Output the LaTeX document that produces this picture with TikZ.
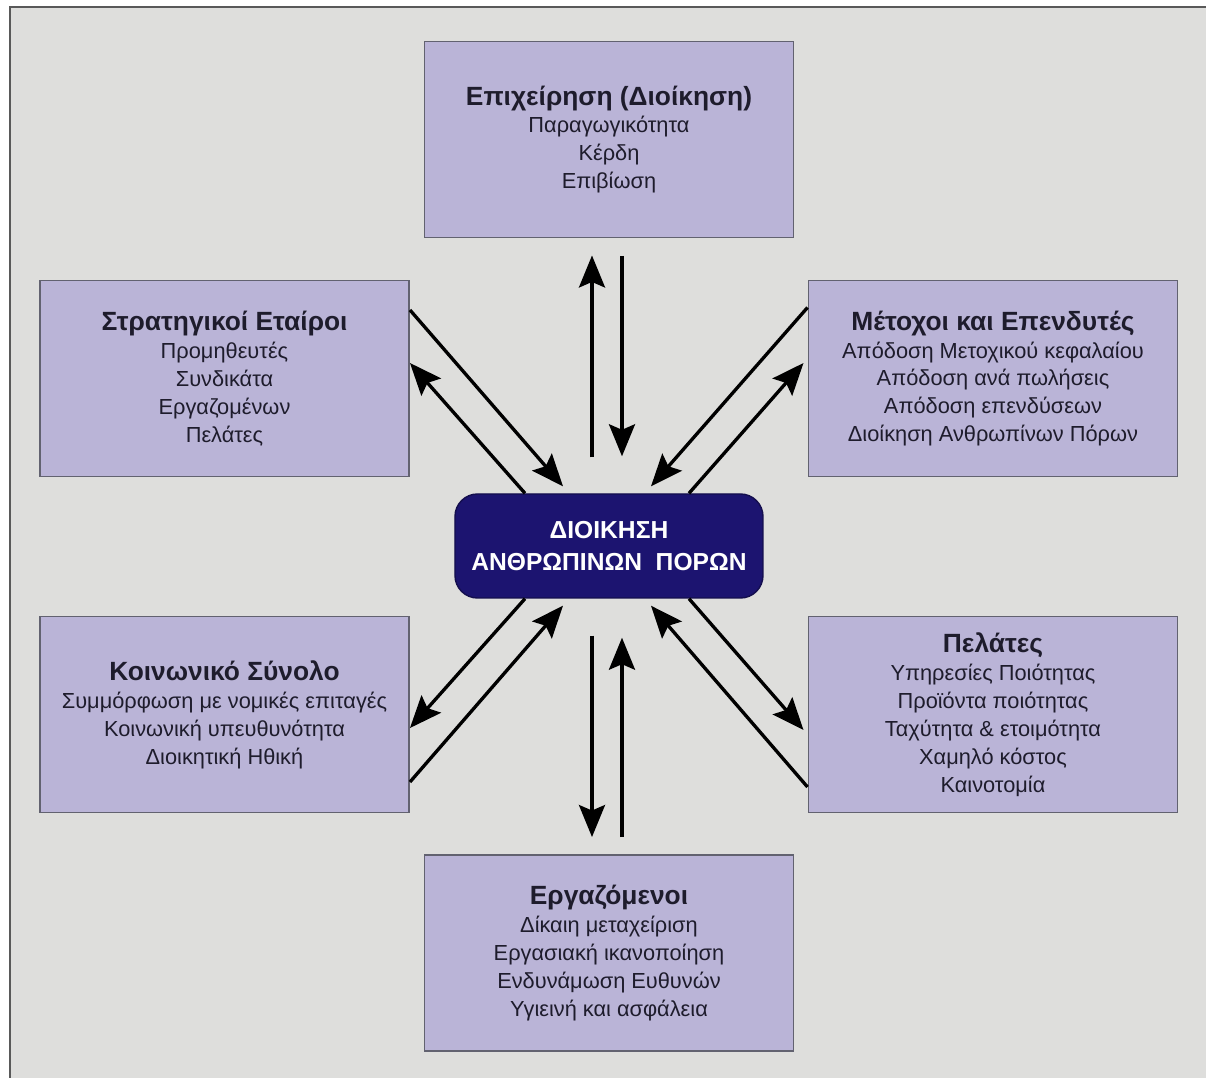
\documentclass[tikz,border=0pt]{standalone}
\usepackage{fontspec}
\setsansfont{Liberation Sans}
\usetikzlibrary{arrows.meta,positioning}
\usepackage{xcolor}

\definecolor{bggray}{RGB}{222,222,220}
\definecolor{boxlilac}{RGB}{186,180,215}
\definecolor{boxedge}{RGB}{98,98,112}
\definecolor{hrmblue}{RGB}{28,20,112}
\definecolor{txtdark}{RGB}{30,28,44}
\newcommand{\grptitle}[1]{{\fontsize{15}{15.9}\selectfont\bfseries #1}}

\begin{document}
\begin{tikzpicture}[
    font=\sffamily,
    grp/.style={
      rectangle, draw=boxedge, line width=1.1pt, fill=boxlilac,
      align=center, text=txtdark,
      minimum width=7.38cm, minimum height=3.92cm,
      inner sep=2pt,
      font=\sffamily\fontsize{12.4}{15.9}\selectfont
    },
    core/.style={
      rectangle, rounded corners=0.45cm, draw=hrmblue!70!black,
      line width=0.8pt, fill=hrmblue, text=white, align=center,
      minimum width=6.16cm, minimum height=2.08cm,
      font=\sffamily\bfseries\fontsize{14}{18.2}\selectfont
    },
    flow/.style={-{Stealth[length=6.4mm, width=5.2mm, inset=1.1mm]},
      line width=1.9pt},
    panelline/.style={draw=black!65, line width=1pt}
  ]
    \useasboundingbox (-12.18,-10.64) rectangle (11.94,10.92);
    \fill[white] (-12.18,-10.64) rectangle (11.94,10.92);

    % Background panel
    \node[fill=bggray, inner sep=0pt,
      minimum width=23.92cm, minimum height=21.42cm] at (-0.02,0.07) (sys) {};
    \draw[panelline] (sys.south west) -- (sys.north west) -- (sys.north east);

    % Central node
    \node[core] at (0,0) (hrm) {ΔΙΟΙΚΗΣΗ\\ΑΝΘΡΩΠΙΝΩΝ\ \ ΠΟΡΩΝ};

    % Stakeholder groups
    \node[grp] at (0,8.13) (epix)
      {\grptitle{Επιχείρηση (Διοίκηση)}\\Παραγωγικότητα\\Κέρδη\\Επιβίωση};
    \node[grp] at (-7.69,3.35) (stra)
      {\grptitle{Στρατηγικοί Εταίροι}\\Προμηθευτές\\Συνδικάτα\\Εργαζομένων\\Πελάτες};
    \node[grp] at (7.68,3.35) (meto)
      {\grptitle{Μέτοχοι και Επενδυτές}\\Απόδοση Μετοχικού κεφαλαίου\\Απόδοση ανά πωλήσεις\\Απόδοση επενδύσεων\\Διοίκηση Ανθρωπίνων Πόρων};
    \node[grp] at (-7.69,-3.37) (koin)
      {\grptitle{Κοινωνικό Σύνολο}\\Συμμόρφωση με νομικές επιταγές\\Κοινωνική υπευθυνότητα\\Διοικητική Ηθική};
    \node[grp] at (7.68,-3.37) (pel)
      {\grptitle{Πελάτες}\\Υπηρεσίες Ποιότητας\\Προϊόντα ποιότητας\\Ταχύτητα \& ετοιμότητα\\Χαμηλό κόστος\\Καινοτομία};
    \node[grp] at (0,-8.14) (erg)
      {\grptitle{Εργαζόμενοι}\\Δίκαιη μεταχείριση\\Εργασιακή ικανοποίηση\\Ενδυνάμωση Ευθυνών\\Υγιεινή και ασφάλεια};

    % Vertical pairs
    \draw[flow] ([shift={(-0.34,0.72)}]hrm.north) -- ([shift={(-0.34,-0.34)}]epix.south);
    \draw[flow] ([shift={(0.26,-0.35)}]epix.south) -- ([shift={(0.26,0.74)}]hrm.north);
    \draw[flow] ([shift={(-0.34,-0.74)}]hrm.south) -- ([shift={(-0.34,0.34)}]erg.north);
    \draw[flow] ([shift={(0.26,0.34)}]erg.north) -- ([shift={(0.26,-0.78)}]hrm.south);

    % Diagonal pairs
    \draw[flow] ([yshift=1.37cm]stra.east) -- ([shift={(-0.92,0.14)}]hrm.north);
    \draw[flow] ([xshift=-1.68cm]hrm.north) -- ([yshift=0.31cm]stra.east);
    \draw[flow] ([yshift=1.42cm]meto.west) -- ([shift={(0.84,0.14)}]hrm.north);
    \draw[flow] ([xshift=1.6cm]hrm.north) -- ([shift={(-0.08,0.31)}]meto.west);
    \draw[flow] ([xshift=-1.68cm]hrm.south) -- ([yshift=-0.27cm]koin.east);
    \draw[flow] ([yshift=-1.35cm]koin.east) -- ([shift={(-0.92,-0.14)}]hrm.south);
    \draw[flow] ([xshift=1.6cm]hrm.south) -- ([shift={(-0.08,-0.31)}]pel.west);
    \draw[flow] ([yshift=-1.45cm]pel.west) -- ([shift={(0.84,-0.14)}]hrm.south);
  \end{tikzpicture}
\end{document}
